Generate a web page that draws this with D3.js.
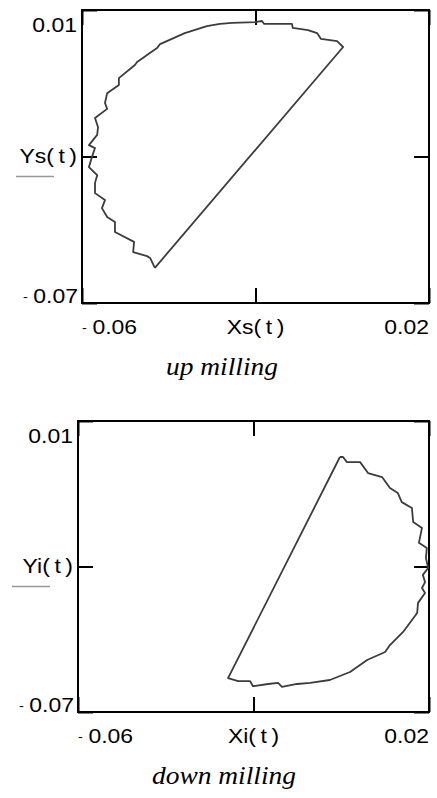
<!DOCTYPE html>
<html>
<head>
<meta charset="utf-8">
<script src="https://cdn.jsdelivr.net/npm/d3@7"></script>
<style>
  body { margin: 0; background: #fff; }
  svg { display: block; }
</style>
</head>
<body>
<svg></svg>
<script>
// axis limits / tick values (same for both plots)
const xTicks = [-0.06, -0.02, 0.02]
const yTicks = [-0.07, -0.03, 0.01]

// up milling trace Xs(t), Ys(t)
const upX = [-0.0432, -0.0443, -0.0450, -0.0482, -0.0480, -0.0524, -0.0524, -0.0542, -0.0554, -0.0547,
             -0.0570, -0.0570, -0.0565, -0.0584, -0.0577, -0.0570, -0.0584, -0.0565, -0.0563, -0.0570,
             -0.0542, -0.0547, -0.0542, -0.0515, -0.0515, -0.0478, -0.0473, -0.0427, -0.0420, -0.0363,
             -0.0312, -0.0282, -0.0254, -0.0201, -0.0185, -0.0180, -0.0116, -0.0114, -0.0079, -0.0058,
             -0.0049, -0.0012, 0.0002]
const upY = [-0.0604, -0.0577, -0.0572, -0.0561, -0.0533, -0.0506, -0.0479, -0.0465, -0.0441, -0.0419,
             -0.0400, -0.0372, -0.0351, -0.0329, -0.0301, -0.0277, -0.0269, -0.0241, -0.0220, -0.0195,
             -0.0170, -0.0154, -0.0127, -0.0105, -0.0086, -0.0050, -0.0042, -0.0004, 0.0007, 0.0037,
             0.0056, 0.0062, 0.0065, 0.0067, 0.0070, 0.0062, 0.0062, 0.0051, 0.0045, 0.0037,
             0.0021, 0.0015, -0.0001]

// down milling trace Xi(t), Yi(t)
const downX = [-0.0003, 0.0004, 0.0013, 0.0043, 0.0061, 0.0093, 0.0111, 0.0129, 0.0138, 0.0161,
               0.0164, 0.0184, 0.0177, 0.0195, 0.0193, 0.0198, 0.0186, 0.0191, 0.0184, 0.0191,
               0.0175, 0.0173, 0.0141, 0.0111, 0.0100, 0.0059, 0.0020, -0.0026, -0.0071, -0.0101,
               -0.0135, -0.0144, -0.0167, -0.0201, -0.0208, -0.0235, -0.0258]
const downY = [0.0001, 0.0001, -0.0013, -0.0013, -0.0043, -0.0054, -0.0084, -0.0098, -0.0123, -0.0139,
               -0.0178, -0.0194, -0.0235, -0.0249, -0.0277, -0.0304, -0.0323, -0.0343, -0.0359, -0.0373,
               -0.0400, -0.0428, -0.0480, -0.0516, -0.0535, -0.0557, -0.0590, -0.0612, -0.0620, -0.0623,
               -0.0631, -0.0620, -0.0623, -0.0629, -0.0615, -0.0615, -0.0607]

const xEndLabels = ['-0.06', '0.02']
const yEndLabels = ['-0.07', '0.01']

const panels = [
  { xs: upX, ys: upY, xName: 'Xs(\u2009t\u2009)', yName: 'Ys(\u2009t\u2009)', caption: 'up milling',
    left: 82, top: 10, width: 347, height: 293, captionX: 222 },
  { xs: downX, ys: downY, xName: 'Xi(\u2009t\u2009)', yName: 'Yi(\u2009t\u2009)', caption: 'down milling',
    left: 78, top: 421, width: 351, height: 291, captionX: 224 }
]

const svg = d3.select('svg')
    .attr('width', 437)
    .attr('height', 798)

// Mathcad output is a bit stretched sideways, so texts get a scaleX
function label(parent, x, y, anchor, str, sx) {
  let g = parent.append('g')
      .attr('transform', `translate(${x},${y}) scale(${sx},1)`)
  let t = g.append('text')
      .attr('text-anchor', anchor)
      .style('font-family', "'Liberation Sans', Arial, sans-serif")
      .style('font-size', '20.5px')
      .attr('fill', '#000')
  if (str[0] === '-') {
    t.append('tspan').attr('dy', -2).style('font-size', '13px').text('-')
    t.append('tspan').attr('dx', 5).attr('dy', 2).text(str.slice(1))
  } else {
    t.text(str)
  }
  return t
}

panels.forEach(p => {
  let x = d3.scaleLinear().domain([xTicks[0], xTicks[2]]).range([p.left, p.left + p.width])
  let y = d3.scaleLinear().domain([yTicks[0], yTicks[2]]).range([p.top + p.height, p.top])
  let g = svg.append('g')
  let tick = 15

  let axes = [
    [d3.axisBottom(x).tickValues(xTicks), `translate(0,${p.top + p.height})`],
    [d3.axisTop(x).tickValues(xTicks), `translate(0,${p.top})`],
    [d3.axisLeft(y).tickValues(yTicks), `translate(${p.left},0)`],
    [d3.axisRight(y).tickValues(yTicks), `translate(${p.left + p.width},0)`]
  ]
  axes.forEach(([ax, tr]) => {
    let a = g.append('g')
        .attr('transform', tr)
        .call(ax.tickSize(-tick).tickSizeOuter(0).tickFormat(''))
    a.select('.domain').remove()
    a.selectAll('.tick line').attr('stroke', '#000').attr('stroke-width', 2)
  })

  // frame
  g.append('rect')
      .attr('x', p.left)
      .attr('y', p.top)
      .attr('width', p.width)
      .attr('height', p.height)
      .attr('fill', 'none')
      .attr('stroke', '#000')
      .attr('stroke-width', 2)

  // trace, closed back to the first point
  let pts = p.xs.map((v, i) => [v, p.ys[i]])
  pts.push(pts[0])
  g.append('path')
      .datum(pts)
      .attr('fill', 'none')
      .attr('stroke', '#3c3c3c')
      .attr('stroke-width', 1.8)
      .attr('stroke-linejoin', 'round')
      .attr('d', d3.line().x(d => x(d[0])).y(d => y(d[1])))

  let sx = 1.12
  // y labels
  label(g, p.left - 5, y(yTicks[2]) + 22, 'end', yEndLabels[1], sx)
  label(g, p.left - 4, y(yTicks[0]), 'end', yEndLabels[0], sx)
  label(g, p.left - 5, y(yTicks[1]) + 6, 'end', p.yName, sx)
  // trace sample line under the y name
  g.append('line')
      .attr('x1', p.left - 66)
      .attr('x2', p.left - 28)
      .attr('y1', y(yTicks[1]) + 20)
      .attr('y2', y(yTicks[1]) + 20)
      .attr('stroke', '#999')
      .attr('stroke-width', 1.5)

  // x labels
  let by = p.top + p.height + 31
  label(g, x(xTicks[0]), by, 'start', xEndLabels[0], sx)
  label(g, x(xTicks[1]), by, 'middle', p.xName, sx)
  label(g, x(xTicks[2]), by, 'end', xEndLabels[1], sx)

  // caption
  g.append('g')
      .attr('transform', `translate(${p.captionX},${p.top + p.height + 72}) scale(1.12,1)`)
    .append('text')
      .attr('text-anchor', 'middle')
      .style('font-family', "'Liberation Serif', 'Times New Roman', serif")
      .style('font-style', 'italic')
      .style('font-size', '24.5px')
      .text(p.caption)
})
</script>
</body>
</html>
